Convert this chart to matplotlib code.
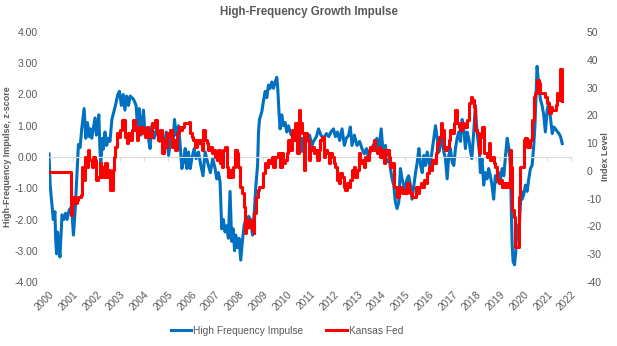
import matplotlib
matplotlib.use("Agg")
import matplotlib.pyplot as plt
import numpy as np

plt.rcParams['font.family'] = ['Liberation Sans', 'DejaVu Sans']
plt.rcParams['axes.unicode_minus'] = False

# High Frequency Impulse (z-score, left axis)
hf_dates = [
    2000.00, 2000.05, 2000.18, 2000.25, 2000.28, 2000.32, 2000.36, 2000.42, 2000.46, 2000.55,
    2000.62, 2000.70, 2000.76, 2000.85, 2000.95, 2001.03, 2001.10, 2001.17, 2001.24, 2001.31,
    2001.38, 2001.48, 2001.55, 2001.62, 2001.70, 2001.75, 2001.80, 2001.94, 2002.00, 2002.10,
    2002.14, 2002.18, 2002.25, 2002.29, 2002.36, 2002.43, 2002.50, 2002.57, 2002.65, 2002.70,
    2002.80, 2002.90, 2002.97, 2003.05, 2003.13, 2003.20, 2003.27, 2003.35, 2003.42, 2003.56,
    2003.67, 2003.73, 2003.80, 2003.87, 2003.98, 2004.05, 2004.12, 2004.19, 2004.26, 2004.33,
    2004.43, 2004.54, 2004.66, 2004.76, 2004.83, 2004.94, 2005.04, 2005.14, 2005.22, 2005.29,
    2005.36, 2005.46, 2005.53, 2005.60, 2005.67, 2005.74, 2005.81, 2005.88, 2005.95, 2006.02,
    2006.12, 2006.20, 2006.30, 2006.40, 2006.49, 2006.58, 2006.68, 2006.80, 2006.90, 2007.00,
    2007.07, 2007.14, 2007.21, 2007.28, 2007.35, 2007.42, 2007.49, 2007.56, 2007.63, 2007.70,
    2007.77, 2007.82, 2007.87, 2007.94, 2008.01, 2008.08, 2008.15, 2008.22, 2008.29, 2008.36,
    2008.41, 2008.49, 2008.58, 2008.66, 2008.72, 2008.79, 2008.83, 2008.87, 2008.97, 2009.04,
    2009.11, 2009.18, 2009.25, 2009.32, 2009.39, 2009.46, 2009.53, 2009.60, 2009.64, 2009.70,
    2009.74, 2009.81, 2009.88, 2009.95, 2010.02, 2010.09, 2010.21, 2010.30, 2010.38, 2010.45,
    2010.52, 2010.59, 2010.66, 2010.73, 2010.87, 2010.98, 2011.08, 2011.15, 2011.27, 2011.36,
    2011.46, 2011.57, 2011.69, 2011.79, 2011.88, 2011.99, 2012.07, 2012.16, 2012.25, 2012.35,
    2012.45, 2012.53, 2012.63, 2012.70, 2012.77, 2012.87, 2012.98, 2013.09, 2013.19, 2013.29,
    2013.38, 2013.47, 2013.54, 2013.66, 2013.75, 2013.82, 2013.90, 2014.00, 2014.08, 2014.18,
    2014.25, 2014.32, 2014.39, 2014.46, 2014.53, 2014.60, 2014.67, 2014.74, 2014.81, 2014.88,
    2014.95, 2015.02, 2015.09, 2015.16, 2015.23, 2015.30, 2015.38, 2015.45, 2015.52, 2015.59,
    2015.66, 2015.73, 2015.80, 2015.87, 2015.94, 2016.04, 2016.12, 2016.22, 2016.29, 2016.36,
    2016.43, 2016.50, 2016.57, 2016.64, 2016.71, 2016.78, 2016.85, 2016.92, 2016.99, 2017.06,
    2017.13, 2017.20, 2017.27, 2017.34, 2017.41, 2017.48, 2017.55, 2017.62, 2017.69, 2017.77,
    2017.82, 2017.90, 2017.97, 2018.01, 2018.07, 2018.14, 2018.18, 2018.25, 2018.32, 2018.39,
    2018.46, 2018.53, 2018.60, 2018.67, 2018.74, 2018.81, 2018.88, 2018.96, 2019.03, 2019.10,
    2019.17, 2019.24, 2019.31, 2019.38, 2019.45, 2019.48, 2019.52, 2019.56, 2019.62, 2019.67,
    2019.73, 2019.80, 2019.84, 2019.90, 2019.94, 2020.01, 2020.08, 2020.15, 2020.22, 2020.29,
    2020.36, 2020.43, 2020.48, 2020.53, 2020.57, 2020.64, 2020.71, 2020.78, 2020.85, 2020.92,
    2020.99, 2021.06, 2021.14, 2021.21, 2021.28, 2021.39, 2021.49, 2021.56, 2021.63,
]
hf_values = [
    0.10, -0.90, -2.00, -1.75, -2.60, -3.10, -2.40, -2.80, -3.20, -1.85,
    -2.00, -1.80, -2.00, -1.70, -1.60, -2.50, -1.75, -0.70, 0.40, 0.30,
    0.90, 1.55, 0.60, 1.10, 0.65, 0.90, 0.60, 1.25, 0.70, 1.35,
    0.37, -0.27, 0.60, 0.25, 0.80, 0.37, 0.60, 0.50, 1.20, 1.35,
    1.65, 2.00, 2.10, 1.65, 2.00, 1.50, 1.95, 1.65, 1.95, 1.85,
    1.65, 1.00, 1.55, 0.70, 1.50, 0.70, 0.90, 0.60, 0.27, 1.00,
    0.60, 0.90, 0.50, 0.70, 0.16, 0.80, 0.05, 0.60, 0.37, 1.20,
    0.70, 1.00, 0.37, -0.37, -0.16, 0.27, -0.37, 0.16, -0.37, -0.05,
    0.27, -0.05, 0.16, -0.27, -0.60, 0.16, -0.16, -0.50, -0.05, -0.37,
    -0.70, -0.50, -0.80, -2.30, -2.00, -2.40, -2.20, -2.60, -1.10, -2.70,
    -2.30, -3.00, -2.50, -2.90, -2.60, -3.30, -2.70, -2.20, -2.00, -2.30,
    -1.90, -2.00, -2.50, -1.65, -0.90, -0.27, 0.80, 1.20, 1.45, 1.80,
    2.10, 1.90, 2.30, 2.20, 2.40, 2.20, 2.40, 2.55, 2.20, 1.35,
    0.90, 1.35, 1.00, 1.10, 0.80, 1.00, 0.70, 0.80, 0.60, 0.90,
    0.37, 0.16, 0.60, 0.16, 0.60, 0.70, 0.37, 0.50, 0.65, 0.90,
    0.70, 0.60, 0.75, 0.65, 0.80, 0.90, 0.65, 0.80, 0.53, 0.90,
    0.37, 0.60, 0.70, 0.96, 0.37, 0.70, 0.37, 0.50, 0.27, 0.10,
    0.27, -0.05, 0.16, 0.37, 0.50, 0.60, 0.16, 0.90, 0.16, 0.37,
    -0.16, 0.16, -0.37, -0.70, -0.90, -1.45, -1.65, -1.45, -0.37, -0.70,
    -0.90, -1.00, -0.70, -0.60, -0.90, -1.35, -0.90, -0.50, -0.16, 0.27,
    -0.27, -0.50, 0.05, -0.27, 0.16, -0.27, 0.05, 0.60, 1.00, 0.60,
    0.16, 0.37, 0.70, 0.16, -0.05, -0.70, 0.05, 0.27, -0.16, -0.27,
    0.27, 0.60, 0.80, 0.50, 1.20, 0.90, 0.27, 0.80, 0.60, 0.16,
    -0.05, 0.80, 1.65, 1.10, 0.60, 0.16, -0.50, -0.05, -0.90, -0.50,
    -0.70, -0.37, -0.60, -0.90, -1.35, -0.60, -0.80, -0.50, -0.70, -0.37,
    -0.60, 0.05, 0.60, 0.27, -0.27, -1.55, -2.80, -3.35, -3.45, -3.05,
    -2.20, -2.50, -1.90, -1.10, -1.35, -1.20, -0.90, -1.10, -0.70, -0.37,
    -0.27, 0.37, 1.00, 2.10, 2.90, 2.30, 1.85, 1.65, 1.35, 0.80,
    1.45, 1.75, 1.20, 0.75, 0.96, 0.85, 0.75, 0.65, 0.43,
]

# Kansas Fed index level (right axis)
kc_dates = [
    2000.00, 2000.90, 2000.92, 2000.97, 2001.10, 2001.17, 2001.24, 2001.35, 2001.38, 2001.45,
    2001.50, 2001.57, 2001.63, 2001.70, 2001.80, 2001.87, 2001.94, 2002.00, 2002.07, 2002.14,
    2002.18, 2002.25, 2002.29, 2002.36, 2002.43, 2002.50, 2002.57, 2002.65, 2002.70, 2002.75,
    2002.80, 2002.87, 2002.94, 2003.01, 2003.08, 2003.15, 2003.20, 2003.27, 2003.34, 2003.42,
    2003.49, 2003.56, 2003.63, 2003.70, 2003.77, 2003.84, 2003.91, 2003.98, 2004.05, 2004.12,
    2004.19, 2004.26, 2004.33, 2004.40, 2004.47, 2004.54, 2004.61, 2004.69, 2004.76, 2004.83,
    2004.90, 2004.97, 2005.04, 2005.11, 2005.18, 2005.25, 2005.32, 2005.39, 2005.46, 2005.53,
    2005.60, 2005.67, 2005.81, 2005.88, 2005.95, 2006.02, 2006.09, 2006.16, 2006.23, 2006.30,
    2006.37, 2006.44, 2006.51, 2006.58, 2006.65, 2006.72, 2006.79, 2006.86, 2006.94, 2007.00,
    2007.07, 2007.14, 2007.21, 2007.28, 2007.35, 2007.42, 2007.49, 2007.56, 2007.63, 2007.70,
    2007.77, 2007.84, 2007.91, 2007.98, 2008.05, 2008.13, 2008.20, 2008.24, 2008.30, 2008.36,
    2008.41, 2008.48, 2008.55, 2008.62, 2008.66, 2008.72, 2008.80, 2008.86, 2008.94, 2009.00,
    2009.04, 2009.11, 2009.18, 2009.25, 2009.32, 2009.39, 2009.46, 2009.53, 2009.60, 2009.67,
    2009.74, 2009.81, 2009.88, 2009.95, 2010.02, 2010.09, 2010.16, 2010.23, 2010.30, 2010.38,
    2010.45, 2010.52, 2010.59, 2010.66, 2010.73, 2010.80, 2010.87, 2010.94, 2011.01, 2011.08,
    2011.15, 2011.22, 2011.29, 2011.36, 2011.43, 2011.50, 2011.57, 2011.65, 2011.72, 2011.79,
    2011.86, 2011.93, 2012.00, 2012.07, 2012.14, 2012.21, 2012.28, 2012.35, 2012.42, 2012.49,
    2012.56, 2012.63, 2012.70, 2012.77, 2012.84, 2012.91, 2012.98, 2013.05, 2013.12, 2013.19,
    2013.26, 2013.33, 2013.40, 2013.47, 2013.54, 2013.61, 2013.68, 2013.75, 2013.82, 2013.90,
    2013.97, 2014.04, 2014.11, 2014.18, 2014.25, 2014.32, 2014.39, 2014.46, 2014.53, 2014.60,
    2014.67, 2014.74, 2014.81, 2014.88, 2014.95, 2015.02, 2015.09, 2015.16, 2015.23, 2015.30,
    2015.38, 2015.45, 2015.52, 2015.59, 2015.66, 2015.73, 2015.80, 2015.87, 2015.94, 2016.01,
    2016.08, 2016.15, 2016.22, 2016.29, 2016.36, 2016.43, 2016.50, 2016.57, 2016.64, 2016.71,
    2016.78, 2016.85, 2016.92, 2016.99, 2017.06, 2017.13, 2017.20, 2017.27, 2017.34, 2017.41,
    2017.48, 2017.56, 2017.63, 2017.70, 2017.77, 2017.84, 2017.90, 2017.97, 2018.04, 2018.11,
    2018.18, 2018.25, 2018.32, 2018.39, 2018.46, 2018.53, 2018.60, 2018.67, 2018.74, 2018.81,
    2018.88, 2018.95, 2019.03, 2019.10, 2019.17, 2019.24, 2019.31, 2019.38, 2019.45, 2019.48,
    2019.52, 2019.59, 2019.66, 2019.73, 2019.80, 2019.84, 2019.95, 2020.01, 2020.08, 2020.15,
    2020.22, 2020.29, 2020.36, 2020.43, 2020.50, 2020.57, 2020.64, 2020.71, 2020.85, 2020.92,
    2020.99, 2021.06, 2021.14, 2021.21, 2021.28, 2021.35, 2021.42, 2021.49, 2021.53, 2021.60,
    2021.63,
]
kc_values = [
    -0.5, -0.5, -16.0, -9.3, -11.7, -10.5, -9.3, -8.7, 1.5, -3.3,
    5.1, 1.5, 7.5, 3.9, 1.5, 5.1, 3.9, -3.3, -2.1, 2.7,
    -2.1, 1.5, -2.1, 2.7, -2.1, 0.3, -6.9, -6.9, 0.3, 5.1,
    8.7, 13.5, 12.3, 14.7, 18.3, 18.3, 12.3, 9.9, 13.5, 11.1,
    14.7, 18.3, 14.7, 11.1, 15.9, 13.5, 15.9, 14.7, 12.3, 15.9,
    13.5, 12.3, 17.1, 15.9, 18.3, 13.5, 11.1, 14.7, 6.3, 11.1,
    8.7, 13.5, 12.3, 14.7, 8.7, 11.1, 7.5, 13.5, 15.9, 14.7,
    15.9, 17.1, 17.1, 17.7, 13.5, 12.3, 11.1, 8.7, 11.1, 9.9,
    11.1, 7.5, 14.7, 11.1, 9.9, 7.5, 8.7, 6.3, 7.5, 5.1,
    3.9, 7.5, 2.7, 1.5, 7.5, 8.7, 1.5, -2.1, 0.3, -2.1,
    1.5, 7.5, 6.3, 1.5, -5.7, -8.1, -12.9, -22.5, -20.1, -17.7,
    -20.1, -17.7, -21.3, -22.5, -15.3, -9.3, -6.9, -5.7, -5.7, -3.3,
    -0.9, 2.7, 1.5, 3.9, 2.7, 5.1, 1.5, 5.1, 5.1, 6.3,
    1.5, 6.3, 2.7, 3.9, 6.3, 11.1, 7.5, 14.7, 11.1, 17.1,
    6.3, 21.9, 17.1, 13.5, 0.3, 13.5, 11.1, 3.9, 7.5, 8.7,
    6.3, 7.5, 3.9, 7.5, 11.1, 12.3, 5.1, 7.5, 6.3, 2.7,
    6.3, 5.1, 2.7, 1.5, -3.3, -4.5, -0.9, -2.1, -5.7, -6.9,
    -4.5, -5.7, -3.3, 0.3, 1.5, -2.1, 0.3, 6.3, 2.7, 3.9,
    1.5, 5.1, 3.9, 7.5, 8.7, 7.5, 11.1, 7.5, 6.3, 8.7,
    5.1, 7.5, 2.7, 6.3, 7.5, 5.1, 1.5, 2.7, -5.7, -5.7,
    -9.3, -6.9, -5.7, -8.1, -6.9, -8.1, -4.5, -6.9, -8.1, -9.3,
    -9.3, -5.7, -8.1, -5.7, -4.5, -5.7, -3.3, -4.5, -0.9, 1.5,
    0.3, 3.9, 2.7, 6.3, 9.9, 12.3, 17.1, 14.7, 8.7, 7.5,
    8.7, 11.1, 14.7, 13.5, 17.1, 21.9, 17.1, 15.9, 14.7, 17.1,
    15.9, 15.9, 18.3, 24.3, 26.7, 25.5, 23.1, 14.7, 13.5, 6.3,
    12.3, 15.9, 6.3, 6.3, 5.1, 9.9, 3.9, 5.1, 2.7, 1.5,
    -3.3, -4.5, -3.3, -5.7, -4.5, -5.7, -4.5, -5.7, 7.5, 1.5,
    -14.1, -16.5, -27.3, -27.3, -9.3, 1.5, 1.5, 11.1, 11.7, 8.7,
    8.7, 11.1, 18.3, 26.7, 27.9, 32.7, 31.5, 27.9, 27.9, 26.7,
    24.3, 20.7, 23.1, 21.9, 21.9, 23.7, 27.9, 25.5, 36.6, 36.6,
    25.2,
]

years = list(range(2000, 2023))
left_ticks = [-4, -3, -2, -1, 0, 1, 2, 3, 4]
right_ticks = [-40, -30, -20, -10, 0, 10, 20, 30, 40, 50]

grey = '#595959'
fig = plt.figure(figsize=(6.17, 3.46), dpi=100)
ax = fig.add_axes([49 / 617, 1 - 282 / 346, (571 - 49) / 617, 250 / 346])
ax2 = ax.twinx()

l1, = ax.plot(hf_dates, hf_values, color='#0070C0', linewidth=2.2,
              label='High Frequency Impulse', solid_joinstyle='round')
l2, = ax2.plot(kc_dates, kc_values, color='#FF0000', linewidth=2.2,
               drawstyle='steps-post', label='Kansas Fed')

ax.set_xlim(2000, 2022)
ax.set_ylim(-4, 4)
ax2.set_ylim(-40, 50)

# zero line with small year ticks (Excel style)
for s in ['top', 'left', 'right']:
    ax.spines[s].set_visible(False)
for s in ax2.spines.values():
    s.set_visible(False)
ax.spines['bottom'].set_position(('data', 0))
ax.spines['bottom'].set_color('#d9d9d9')
ax.set_xticks(years)
ax.tick_params(axis='x', length=3, color='#d9d9d9', labelbottom=False)

sec = ax.secondary_xaxis('bottom')
sec.spines['bottom'].set_visible(False)
sec.set_xticks(years)
sec.set_xticklabels([str(y) for y in years], rotation=45, ha='right',
                    rotation_mode='anchor', fontsize=7.3, color=grey)
sec.tick_params(axis='x', length=0, pad=5)

ax.set_yticks(left_ticks)
ax.set_yticklabels(['%.2f' % v for v in left_ticks])
ax.tick_params(axis='y', length=0, labelsize=7.5, labelcolor=grey, pad=8)
ax2.set_yticks(right_ticks)
ax2.tick_params(axis='y', length=0, labelsize=7.5, labelcolor=grey, pad=11)

ax.set_ylabel('High-Frequency Impulse, z-score', fontsize=6.4, fontweight='bold', color=grey)
ax.yaxis.set_label_coords(-0.071, 0.5)
ax2.set_ylabel('Index Level', fontsize=6.4, fontweight='bold', color=grey)
ax2.yaxis.set_label_coords(1.058, 0.5)

fig.text(0.5, 1 - 12 / 346, 'High-Frequency Growth Impulse', ha='center', va='center',
         fontsize=8.3, fontweight='bold', color=grey)

fig.legend([l1, l2], ['High Frequency Impulse', 'Kansas Fed'], loc='center',
           bbox_to_anchor=(0.465, 1 - 331 / 346), ncol=2, frameon=False,
           fontsize=7.3, labelcolor=grey, handlelength=2.0, columnspacing=2.3,
           handletextpad=0.2)

fig.savefig('out.png', dpi=100)
